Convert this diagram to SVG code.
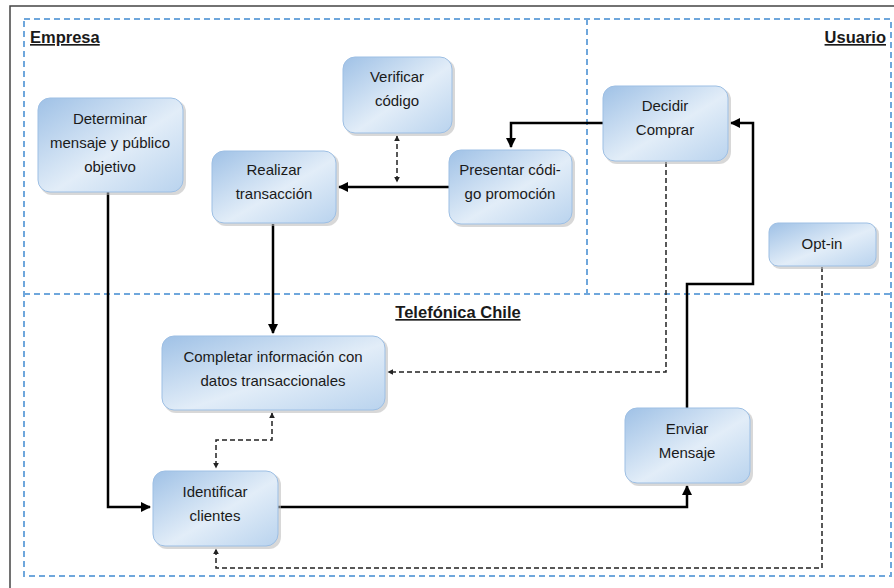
<svg xmlns="http://www.w3.org/2000/svg" width="894" height="588" viewBox="0 0 894 588">
<style>
.node rect.b{fill:url(#g);stroke:#9dbfe4;stroke-width:1}
.node rect.s{fill:#b8b8b8;opacity:0.55}
.node text{font-family:"Liberation Sans",Arial,sans-serif;font-size:15px;fill:#1a1a1a;text-anchor:middle}
.lane{fill:none;stroke:#6fa7dc;stroke-width:2;stroke-dasharray:6 4}
.title{font-family:"Liberation Sans",Arial,sans-serif;font-size:16.5px;font-weight:bold;fill:#1a1a1a;text-decoration:underline}
.solid{fill:none;stroke:#000;stroke-width:2.5}
.dash{fill:none;stroke:#222;stroke-width:1.5;stroke-dasharray:5 3}
</style>
<defs>
<linearGradient id="g" x1="0" y1="0" x2="1" y2="1">
<stop offset="0" stop-color="#9fc1e6"/>
<stop offset="0.55" stop-color="#e2edf8"/>
<stop offset="1" stop-color="#b9d3ee"/>
</linearGradient>
<marker id="a" viewBox="0 0 10 10" refX="9" refY="5" markerWidth="4" markerHeight="4" orient="auto-start-reverse">
<path d="M0,0 L10,5 L0,10 z" fill="#000"/>
</marker>
<marker id="d" viewBox="0 0 10 10" refX="9" refY="5" markerWidth="4" markerHeight="4" orient="auto-start-reverse">
<path d="M0,0 L10,5 L0,10 z" fill="#222"/>
</marker>
</defs>
<rect width="894" height="588" fill="#fff"/>
<path d="M10,588 V6 H894" fill="none" stroke="#444" stroke-width="1.5"/>
<g id="lanes">
<rect class="lane" x="24" y="19" width="867" height="557"/>
<line class="lane" x1="587" y1="19" x2="587" y2="294"/>
<line class="lane" x1="24" y1="294" x2="891" y2="294"/>
<text class="title" x="30" y="43">Empresa</text>
<text class="title" x="886" y="43" text-anchor="end">Usuario</text>
<text class="title" x="458" y="318" text-anchor="middle">Telefónica Chile</text>
</g>
<g id="connectors">
<path class="solid" d="M108,192 V507 H150" marker-end="url(#a)"/>
<path class="solid" d="M273,224 V333" marker-end="url(#a)"/>
<path class="solid" d="M449,187 H339" marker-end="url(#a)"/>
<path class="solid" d="M603,123 H511 V147" marker-end="url(#a)"/>
<path class="solid" d="M278,507 H687 V486" marker-end="url(#a)"/>
<path class="solid" d="M687,408 V284 H753 V123 H731" marker-end="url(#a)"/>
<path class="dash" d="M397,136 V182" marker-start="url(#d)" marker-end="url(#d)"/>
<path class="dash" d="M666,162 V372 H388" marker-end="url(#d)"/>
<path class="dash" d="M822,267 V568 H216 V549" marker-end="url(#d)"/>
<path class="dash" d="M272,413 V440 H216 V468" marker-start="url(#d)" marker-end="url(#d)"/>
</g>
<g id="n-determinar" class="node">
<rect class="s" x="40" y="100" width="146" height="95" rx="12"/>
<rect class="b" x="38" y="98" width="145" height="94" rx="12"/>
<text x="110" y="124">Determinar</text>
<text x="110" y="148">mensaje y público</text>
<text x="110" y="172">objetivo</text>
</g>
<g id="n-verificar" class="node">
<rect class="s" x="345" y="59" width="110" height="77" rx="12"/>
<rect class="b" x="343" y="57" width="109" height="76" rx="12"/>
<text x="397" y="82">Verificar</text>
<text x="397" y="106">código</text>
</g>
<g id="n-realizar" class="node">
<rect class="s" x="214" y="153" width="125" height="73" rx="12"/>
<rect class="b" x="212" y="151" width="124" height="72" rx="12"/>
<text x="274" y="175">Realizar</text>
<text x="274" y="199">transacción</text>
</g>
<g id="n-presentar" class="node">
<rect class="s" x="451" y="152" width="124" height="75" rx="12"/>
<rect class="b" x="449" y="150" width="123" height="74" rx="12"/>
<text x="510" y="175">Presentar códi-</text>
<text x="510" y="199">go promoción</text>
</g>
<g id="n-decidir" class="node">
<rect class="s" x="605" y="88" width="126" height="76" rx="12"/>
<rect class="b" x="603" y="86" width="125" height="75" rx="12"/>
<text x="665" y="111">Decidir</text>
<text x="665" y="135">Comprar</text>
</g>
<g id="n-optin" class="node">
<rect class="s" x="771" y="225" width="108" height="44" rx="9"/>
<rect class="b" x="769" y="223" width="107" height="43" rx="9"/>
<text x="822" y="249">Opt-in</text>
</g>
<g id="n-completar" class="node">
<rect class="s" x="164" y="338" width="224" height="75" rx="12"/>
<rect class="b" x="162" y="336" width="223" height="74" rx="12"/>
<text x="273" y="362">Completar información con</text>
<text x="273" y="386">datos transaccionales</text>
</g>
<g id="n-identificar" class="node">
<rect class="s" x="155" y="473" width="126" height="76" rx="12"/>
<rect class="b" x="153" y="471" width="125" height="75" rx="12"/>
<text x="215" y="497">Identificar</text>
<text x="215" y="521">clientes</text>
</g>
<g id="n-enviar" class="node">
<rect class="s" x="627" y="410" width="126" height="76" rx="12"/>
<rect class="b" x="625" y="408" width="125" height="75" rx="12"/>
<text x="687" y="434">Enviar</text>
<text x="687" y="458">Mensaje</text>
</g>
</svg>
